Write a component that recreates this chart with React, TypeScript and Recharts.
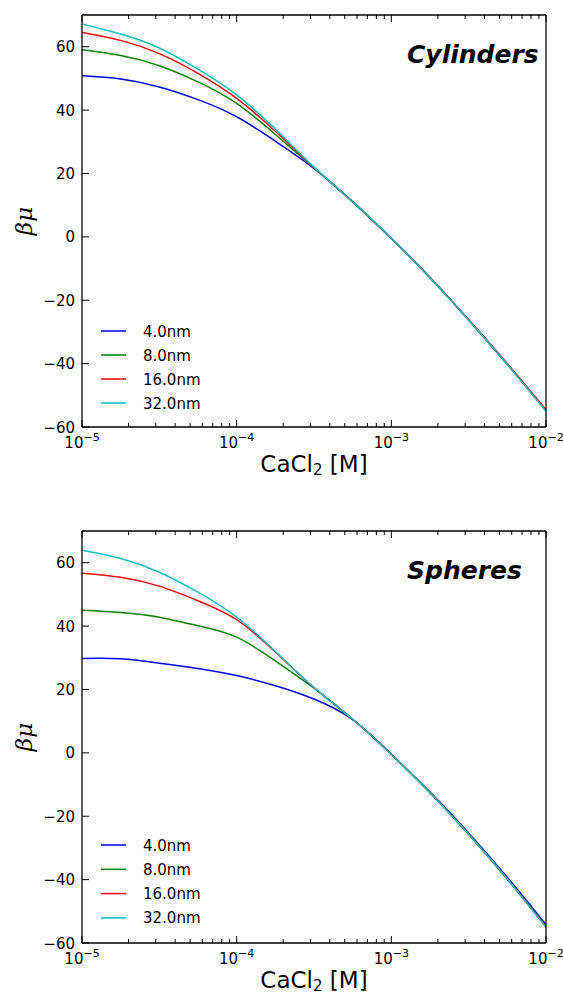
import React from "react";
import { LineChart, Line, XAxis, YAxis } from "recharts";

// CaCl2 concentration [M], quarter-decade steps
const concentration = [
  1e-5, 1.78e-5, 3.16e-5, 5.62e-5, 1e-4, 1.78e-4, 3.16e-4, 5.62e-4, 1e-3, 1.78e-3, 3.16e-3, 5.62e-3, 1e-2,
];

// Cylinders, beta*mu per radius
const cyl4 = [50.8, 49.8, 47.3, 43.3, 37.9, 30.2, 21.6, 11.0, -0.5, -12.9, -26.2, -40.2, -54.8];
const cyl8 = [59.0, 57.2, 54.0, 48.9, 42.1, 32.3, 21.8, 11.1, -0.5, -12.9, -26.2, -40.2, -54.8];
const cyl16 = [64.5, 62.0, 57.8, 51.6, 43.7, 33.3, 21.9, 11.1, -0.5, -12.8, -26.1, -40.0, -54.6];
const cyl32 = [67.2, 64.0, 59.6, 52.9, 44.8, 34.0, 22.0, 11.1, -0.5, -12.9, -26.2, -40.2, -55.0];

// Spheres
const sph4 = [29.8, 29.7, 28.3, 26.6, 24.4, 21.2, 17.0, 10.5, -0.4, -12.4, -25.3, -39.3, -54.2];
const sph8 = [45.0, 44.3, 42.8, 40.1, 36.5, 29.0, 20.4, 10.6, -0.5, -12.6, -25.7, -39.8, -54.8];
const sph16 = [56.7, 55.4, 52.6, 48.0, 42.0, 31.8, 20.6, 10.6, -0.5, -12.6, -25.7, -39.8, -54.9];
const sph32 = [63.9, 61.3, 57.0, 50.7, 42.8, 32.0, 20.6, 10.6, -0.5, -12.6, -25.7, -39.8, -55.0];

const sizeLabels = ["4.0nm", "8.0nm", "16.0nm", "32.0nm"];
const colors = ["#0000ff", "#008000", "#ff0000", "#00bfbf"];
const keys = ["s4", "s8", "s16", "s32"];

const yTicks = [-60, -40, -20, 0, 20, 40, 60];
const xTicks: number[] = [];
for (let e = -5; e < -2; e++) {
  for (let m = 1; m < 10; m++) xTicks.push(m * Math.pow(10, e));
}
xTicks.push(1e-2);

const W = 563;
const H = 497;
const FONT = "'DejaVu Sans', sans-serif";

const isMajor = (v: number) => Math.abs(Math.log10(v) - Math.round(Math.log10(v))) < 1e-6;
const minus = (n: number) => (n < 0 ? "\u2212" + Math.abs(n) : String(n));

function BottomTick({ x, y, payload }: any) {
  const major = isMajor(payload.value);
  const exp = Math.round(Math.log10(payload.value));
  return (
    <g>
      <line x1={x} y1={y} x2={x} y2={y - (major ? 7 : 4)} stroke="#000" strokeWidth={1} />
      {major && (
        <text x={x} y={y + 21} textAnchor="middle" fontSize={15} fontFamily={FONT} fill="#000">
          10
          <tspan dy={-7} fontSize={11}>
            {minus(exp)}
          </tspan>
        </text>
      )}
    </g>
  );
}

function TopTick({ x, y, payload }: any) {
  const major = isMajor(payload.value);
  return <line x1={x} y1={y} x2={x} y2={y + (major ? 7 : 4)} stroke="#000" strokeWidth={1} />;
}

function LeftTick({ x, y, payload }: any) {
  return (
    <g>
      <line x1={x} y1={y} x2={x + 7} y2={y} stroke="#000" strokeWidth={1} />
      <text x={x - 7} y={y + 5.5} textAnchor="end" fontSize={15} fontFamily={FONT} fill="#000">
        {minus(payload.value)}
      </text>
    </g>
  );
}

function RightTick({ x, y }: any) {
  return <line x1={x} y1={y} x2={x - 7} y2={y} stroke="#000" strokeWidth={1} />;
}

function XLabel({ viewBox }: any) {
  const cx = viewBox.x + viewBox.width / 2;
  return (
    <text x={cx} y={viewBox.y + 45} textAnchor="middle" fontSize={23} fontFamily={FONT} fill="#000">
      CaCl
      <tspan dy={3} fontSize={15}>
        2
      </tspan>
      <tspan dy={-3}> [M]</tspan>
    </text>
  );
}

function YLabel({ viewBox }: any) {
  const cy = viewBox.y + viewBox.height / 2;
  return (
    <text
      x={32}
      y={cy}
      transform={`rotate(-90, 32, ${cy})`}
      textAnchor="middle"
      fontSize={23}
      fontStyle="italic"
      fontFamily="'DejaVu Serif', serif"
      fill="#000"
    >
      βμ
    </text>
  );
}

function Panel({
  title,
  series,
  top,
  legendY,
  legendStep,
  titleY,
}: {
  title: string;
  series: number[][];
  top: number;
  legendY: number;
  legendStep: number;
  titleY: number;
}) {
  const data = concentration.map((c, i) => {
    const row: any = { c };
    keys.forEach((k, j) => (row[k] = series[j][i]));
    return row;
  });
  const xAxisH = H - top - 412;
  return (
    <div style={{ position: "relative", width: W, height: H }}>
      <LineChart width={W} height={H} data={data} margin={{ top: top - 1, right: 16, left: 0, bottom: 0 }}>
        <XAxis
          xAxisId="b"
          dataKey="c"
          type="number"
          scale="log"
          domain={[1e-5, 1e-2]}
          allowDataOverflow
          ticks={xTicks}
          interval={0}
          height={xAxisH}
          tickSize={0}
          tickMargin={0}
          tick={<BottomTick />}
          axisLine={{ stroke: "#000", strokeWidth: 1.3 }}
          label={<XLabel />}
        />
        <XAxis
          xAxisId="t"
          orientation="top"
          dataKey="c"
          type="number"
          scale="log"
          domain={[1e-5, 1e-2]}
          allowDataOverflow
          ticks={xTicks}
          interval={0}
          height={1}
          tickSize={0}
          tickMargin={0}
          tick={<TopTick />}
          axisLine={{ stroke: "#000", strokeWidth: 1.3 }}
        />
        <YAxis
          yAxisId="l"
          type="number"
          domain={[-60, 70]}
          ticks={yTicks}
          interval={0}
          width={82}
          tickSize={0}
          tickMargin={0}
          tick={<LeftTick />}
          axisLine={{ stroke: "#000", strokeWidth: 1.3 }}
          label={<YLabel />}
        />
        <YAxis
          yAxisId="r"
          orientation="right"
          type="number"
          domain={[-60, 70]}
          ticks={yTicks}
          interval={0}
          width={1}
          tickSize={0}
          tickMargin={0}
          tick={<RightTick />}
          axisLine={{ stroke: "#000", strokeWidth: 1.3 }}
        />
        {keys.map((k, j) => (
          <Line
            key={k}
            xAxisId="b"
            yAxisId="l"
            dataKey={k}
            type="natural"
            stroke={colors[j]}
            strokeWidth={1.5}
            dot={false}
            isAnimationActive={false}
          />
        ))}
      </LineChart>
      <svg
        width={W}
        height={H}
        style={{ position: "absolute", left: 0, top: 0, pointerEvents: "none" }}
      >
        <text
          x={407}
          y={titleY}
          fontSize={25}
          fontWeight="bold"
          fontStyle="italic"
          fontFamily={FONT}
          fill="#000"
        >
          {title}
        </text>
        {sizeLabels.map((lab, j) => {
          const yy = legendY + j * legendStep;
          return (
            <g key={lab}>
              <line x1={101} y1={yy} x2={126} y2={yy} stroke={colors[j]} strokeWidth={1.5} />
              <text x={143} y={yy + 5.5} fontSize={15} fontFamily={FONT} fill="#000">
                {lab}
              </text>
            </g>
          );
        })}
      </svg>
    </div>
  );
}

export default function App() {
  return (
    <div style={{ position: "absolute", left: 0, top: 0, width: W, height: 994, background: "#fff" }}>
      <Panel
        title="Cylinders"
        series={[cyl4, cyl8, cyl16, cyl32]}
        top={15}
        legendY={331}
        legendStep={24}
        titleY={63}
      />
      <Panel
        title="Spheres"
        series={[sph4, sph8, sph16, sph32]}
        top={34}
        legendY={348}
        legendStep={24.3}
        titleY={82}
      />
    </div>
  );
}
